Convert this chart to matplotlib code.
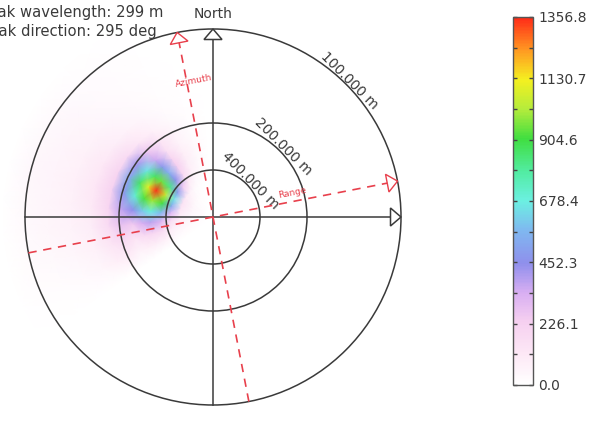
"""Polar wave spectrum quicklook: energy density over wavenumber x direction,
with wavelength rings, North/East axes and the SAR azimuth/range frame.
"""

import matplotlib
matplotlib.use("Agg")
import matplotlib.pyplot as plt
import numpy as np
from matplotlib.colors import LinearSegmentedColormap, Normalize
from matplotlib.patches import Circle, Polygon

PEAK_WAVELENGTH = 299  # m
PEAK_DIRECTION = 295  # deg
CIRCLE_WAVELENGTHS = [100, 200, 400]  # m
PLATFORM_HEADING = 349  # deg, azimuth axis bearing

# spectrum nodes: wavenumber (1/m) rows x direction (deg) columns
WAVENUMBERS = [0.0005, 0.0012, 0.0018, 0.0023, 0.0028, 1 / 299, 0.0038, 0.0043,
               0.0049, 0.0056, 0.0065, 0.0076, 0.0088, 0.0100, 0.0112]
DIRECTIONS = [235, 245, 255, 265, 275, 285, 295, 305, 315, 325, 335, 345, 355]
ENERGY = [
    [0, 4, 7, 10, 12, 13, 12, 10, 7, 4, 2, 1, 0],
    [0, 14, 24, 34, 42, 45, 43, 36, 25, 14, 6, 2, 0],
    [0, 30, 52, 80, 108, 137, 146, 116, 71, 37, 15, 5, 0],
    [0, 40, 95, 182, 325, 533, 650, 488, 260, 111, 40, 15, 0],
    [0, 75, 170, 322, 575, 900, 1050, 820, 460, 196, 75, 30, 0],
    [0, 90, 200, 380, 678, 1000, 1356.84, 950, 543, 231, 90, 36, 0],
    [0, 80, 178, 336, 600, 920, 1100, 860, 480, 204, 80, 32, 0],
    [0, 60, 135, 252, 450, 700, 860, 660, 360, 153, 60, 24, 0],
    [0, 100, 180, 280, 380, 480, 520, 420, 260, 130, 55, 20, 0],
    [0, 80, 130, 175, 205, 220, 210, 175, 120, 70, 32, 12, 0],
    [0, 45, 70, 95, 110, 118, 112, 95, 65, 38, 18, 7, 0],
    [0, 28, 44, 60, 70, 75, 70, 60, 42, 24, 11, 4, 0],
    [0, 20, 32, 43, 50, 54, 50, 43, 30, 17, 8, 3, 0],
    [0, 14, 22, 30, 35, 38, 35, 30, 21, 12, 5, 2, 0],
    [0, 0, 0, 0, 0, 0, 0, 0, 0, 0, 0, 0, 0],
]

CMAP_COLORS = [
    (0.00, "#ffffff"), (0.08, "#fde9f6"), (0.17, "#f6d0f0"), (0.25, "#d8aef2"),
    (0.33, "#8f8fec"), (0.42, "#7fb8f0"), (0.50, "#6cf0e2"), (0.58, "#52eca2"),
    (0.67, "#40de40"), (0.75, "#b4ec3c"), (0.83, "#f4f020"), (0.91, "#ff9a22"),
    (1.00, "#ff2a18"),
]

LINE = "#3a3a3a"
RED = "#e8404c"
W, H = 604, 422
CX, CY, R_PX = 213, 217, 188  # ring centre / outer ring radius in pixels


def main() -> None:
    k_outer = 1.0 / min(CIRCLE_WAVELENGTHS)
    px = k_outer / R_PX  # one pixel in wavenumber units

    fig = plt.figure(figsize=(W / 100, H / 100), dpi=100)
    fig.patch.set_facecolor("white")
    ax = fig.add_axes([0, 0, 1, 1])
    ax.set_xlim(-CX * px, (W - CX) * px)
    ax.set_ylim(-(H - CY) * px, CY * px)
    ax.axis("off")

    cmap = LinearSegmentedColormap.from_list("spec", CMAP_COLORS)
    energy = np.array(ENERGY, dtype=float)
    vmax = energy.max()
    norm = Normalize(0, vmax)

    kk, dd = np.meshgrid(WAVENUMBERS, np.radians(DIRECTIONS), indexing="ij")
    ax.pcolormesh(kk * np.sin(dd), kk * np.cos(dd), energy, cmap=cmap, norm=norm,
                  shading="gouraud", zorder=1)

    # wavelength rings + labels at 45 deg
    for wl in CIRCLE_WAVELENGTHS:
        k = 1.0 / wl
        ax.add_patch(Circle((0, 0), k, fill=False, ec=LINE, lw=1.1, zorder=3))
        d = k + 5 * px
        ax.text(d * np.sin(np.pi / 4), d * np.cos(np.pi / 4), f"{wl:.3f} m",
                rotation=-45, rotation_mode="anchor", ha="center", va="center",
                fontsize=10, color=LINE, zorder=4)

    def head(bearing, color, lw):
        b = np.radians(bearing)
        u = np.array([np.sin(b), np.cos(b)])
        n = np.array([u[1], -u[0]])
        tip = k_outer * u
        base = tip - 10.5 * px * u
        pts = [tip, base + 9 * px * n, base - 9 * px * n]
        ax.add_patch(Polygon(pts, closed=True, fill=False, ec=color, lw=lw, zorder=5))
        return base

    # North / East axes
    base = head(0, LINE, 1.1)
    ax.plot([0, 0], [-k_outer, base[1]], color=LINE, lw=1.1, zorder=4)
    base = head(90, LINE, 1.1)
    ax.plot([-k_outer, base[0]], [0, 0], color=LINE, lw=1.1, zorder=4)
    ax.text(0, CY * px - 18 * px, "North", ha="center", va="baseline",
            fontsize=10, color=LINE)

    # SAR azimuth / range frame
    for bearing in (PLATFORM_HEADING, PLATFORM_HEADING + 90):
        b = np.radians(bearing)
        tip = head(bearing, RED, 1.0)
        ax.plot([-k_outer * np.sin(b), tip[0]], [-k_outer * np.cos(b), tip[1]],
                color=RED, lw=1.2, ls=(0, (5, 4)), zorder=4)
    rot = 90 - (PLATFORM_HEADING + 90)  # text follows the range direction
    rot = (rot + 180) % 360 - 180
    b = np.radians(PLATFORM_HEADING + 3)
    ax.text(0.73 * k_outer * np.sin(b), 0.73 * k_outer * np.cos(b), "Azimuth",
            rotation=rot, rotation_mode="anchor", ha="center", va="center",
            fontsize=6.5, color=RED, zorder=6)
    b = np.radians(PLATFORM_HEADING + 90 - 6)
    ax.text(0.44 * k_outer * np.sin(b), 0.44 * k_outer * np.cos(b), "Range",
            rotation=rot, rotation_mode="anchor", ha="center", va="center",
            fontsize=6.5, color=RED, zorder=6)

    fig.text(163 / W, 1 - 17 / H, f"Peak wavelength: {PEAK_WAVELENGTH} m",
             ha="right", va="baseline", fontsize=10.6, color=LINE)
    fig.text(157 / W, 1 - 36 / H, f"Peak direction: {PEAK_DIRECTION} deg",
             ha="right", va="baseline", fontsize=10.6, color=LINE)

    cax = fig.add_axes([513 / W, 1 - 385 / H, 20 / W, 368 / H])
    sm = plt.cm.ScalarMappable(norm=norm, cmap=cmap)
    cb = fig.colorbar(sm, cax=cax)
    ticks = np.linspace(0, vmax, 7)
    cb.set_ticks(ticks)
    cb.set_ticklabels([f"{t:.1f}" for t in ticks])
    cax.yaxis.set_ticks((ticks[:-1] + ticks[1:]) / 2, minor=True)
    cax.tick_params(which="both", direction="in", left=True, right=True,
                    length=3, width=1.0, color="#444444")
    cax.tick_params(which="major", labelsize=10, labelcolor=LINE, pad=4)
    cb.outline.set_edgecolor("#555555")
    cb.outline.set_linewidth(1.0)

    fig.savefig("out.png", dpi=100)
    plt.close(fig)


if __name__ == "__main__":
    main()
